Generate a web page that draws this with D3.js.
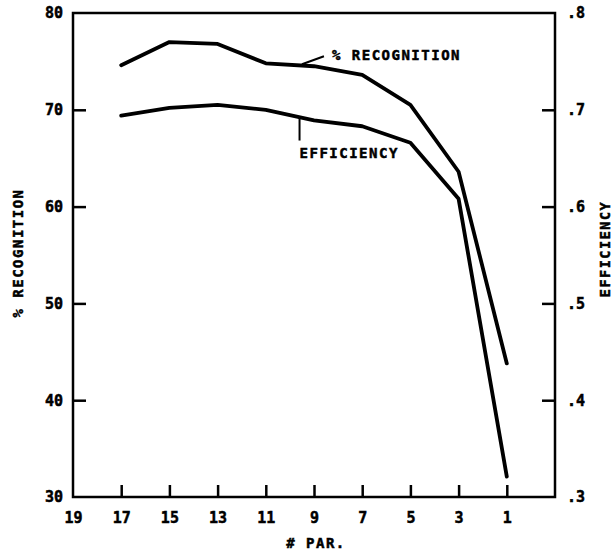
<!DOCTYPE html>
<html>
<head>
<meta charset="utf-8">
<script src="https://cdn.jsdelivr.net/npm/d3@7"></script>
<style>
  html,body{margin:0;padding:0;background:#fff;}
  svg{display:block;}
  .axis path{display:none;}
  .axis line{stroke:#000;stroke-width:2.5;}
  .axis text{font-family:"DejaVu Sans Mono",monospace;font-weight:bold;font-size:15px;fill:#000;stroke:#000;stroke-width:0.5;}
</style>
</head>
<body>
<div id="chart"></div>
<script>
// ── data ─────────────────────────────────────────
const parCounts   = [17, 15, 13, 11, 9, 7, 5, 3, 1];
const recognition = [74.6, 77.0, 76.8, 74.8, 74.5, 73.6, 70.5, 63.6, 43.8];
const efficiency  = [0.694, 0.702, 0.705, 0.700, 0.689, 0.683, 0.666, 0.608, 0.321];
const xTicks      = [19, 17, 15, 13, 11, 9, 7, 5, 3, 1];
const leftTicks   = [30, 40, 50, 60, 70, 80];
const rightTicks  = [0.3, 0.4, 0.5, 0.6, 0.7, 0.8];

const W = 612, H = 554;
const MG = {t:13, r:57, b:57, l:73};
const iW = W - MG.l - MG.r, iH = H - MG.t - MG.b;

const svg = d3.select("#chart").append("svg").attr("width", W).attr("height", H);
const g = svg.append("g").attr("transform", `translate(${MG.l},${MG.t})`);

const x  = d3.scaleLinear().domain([19, -1]).range([0, iW]);
const yL = d3.scaleLinear().domain([30, 80]).range([iH, 0]);
const yR = d3.scaleLinear().domain([0.3, 0.8]).range([iH, 0]);

// frame
g.append("rect").attr("width", iW).attr("height", iH)
  .attr("fill", "none").attr("stroke", "#000").attr("stroke-width", 2.5);

// axes (ticks point inward, none at the corners)
const ax = (sel, hideFn) => sel.selectAll(".tick line").filter(hideFn).remove();

g.append("g").attr("class", "axis").attr("transform", `translate(0,${iH})`)
  .call(d3.axisBottom(x).tickValues(xTicks).tickSize(-12).tickPadding(15).tickFormat(d3.format("d")))
  .call(s => ax(s, d => d === 19));

g.append("g").attr("class", "axis")
  .call(d3.axisLeft(yL).tickValues(leftTicks).tickSize(-13).tickPadding(10).tickFormat(d3.format("d")))
  .call(s => ax(s, d => d === 30 || d === 80));

g.append("g").attr("class", "axis").attr("transform", `translate(${iW},0)`)
  .call(d3.axisRight(yR).tickValues(rightTicks).tickSize(-13).tickPadding(12)
    .tickFormat(d => d3.format(".1f")(d).replace(/^0/, "")))
  .call(s => ax(s, d => Math.abs(d - 0.3) < 1e-9 || Math.abs(d - 0.8) < 1e-9));

// lines
const lineL = d3.line().x((_, i) => x(parCounts[i])).y(v => yL(v));
const lineR = d3.line().x((_, i) => x(parCounts[i])).y(v => yR(v));

g.append("path").attr("d", lineL(recognition))
  .attr("fill", "none").attr("stroke", "#000").attr("stroke-width", 3.8)
  .attr("stroke-linejoin", "round").attr("stroke-linecap", "round");
g.append("path").attr("d", lineR(efficiency))
  .attr("fill", "none").attr("stroke", "#000").attr("stroke-width", 3.8)
  .attr("stroke-linejoin", "round").attr("stroke-linecap", "round");

// in-plot labels with leader lines
const lblFont = sel => sel.attr("font-family", "'DejaVu Sans Mono',monospace")
  .attr("font-weight", "bold").attr("font-size", 14).attr("letter-spacing", 1.5)
  .attr("fill", "#000").attr("stroke", "#000").attr("stroke-width", 0.5);

const recX = x(9.5), recY = yL(74.6);
g.append("line").attr("x1", recX).attr("y1", recY - 1).attr("x2", recX + 22).attr("y2", recY - 9)
  .attr("stroke", "#000").attr("stroke-width", 2);
g.append("text").attr("x", recX + 30).attr("y", recY - 5).call(lblFont).text("% RECOGNITION");

const effX = x(9.6), effY = yR(0.692);
g.append("line").attr("x1", effX).attr("y1", effY).attr("x2", effX).attr("y2", effY + 23)
  .attr("stroke", "#000").attr("stroke-width", 2);
g.append("text").attr("x", effX).attr("y", effY + 40).call(lblFont).text("EFFICIENCY");

// axis titles
svg.append("text").attr("transform", `translate(23,253) rotate(-90)`)
  .attr("text-anchor", "middle").call(lblFont).text("% RECOGNITION");
svg.append("text").attr("transform", `translate(610,249) rotate(-90)`)
  .attr("text-anchor", "middle").call(lblFont).attr("font-size", 13.5).text("EFFICIENCY");
svg.append("text").attr("x", MG.l + iW / 2 + 2).attr("y", 548)
  .attr("text-anchor", "middle").call(lblFont).text("# PAR.");
</script>
</body>
</html>
